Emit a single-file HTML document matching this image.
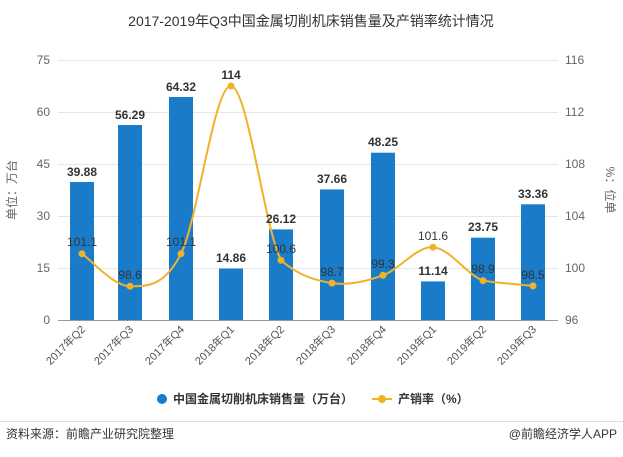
<!DOCTYPE html>
<html><head><meta charset="utf-8"><style>
body{margin:0;background:#fff;}
svg text{font-family:"Liberation Sans","Noto Sans CJK SC",sans-serif;}
</style></head><body>
<svg width="623" height="452" viewBox="0 0 623 452" xmlns="http://www.w3.org/2000/svg">
<text x="311" y="26" font-size="14" text-anchor="middle" fill="#333">2017-2019年Q3中国金属切削机床销售量及产销率统计情况</text>
<g stroke="#e6e6e6" stroke-width="1">
<line x1="58" y1="60.5" x2="558" y2="60.5"/><line x1="58" y1="112.5" x2="558" y2="112.5"/>
<line x1="58" y1="164.5" x2="558" y2="164.5"/><line x1="58" y1="216.5" x2="558" y2="216.5"/>
<line x1="58" y1="268.5" x2="558" y2="268.5"/>
</g>
<line x1="58" y1="320.5" x2="558" y2="320.5" stroke="#999"/>
<g font-size="12" fill="#666" text-anchor="end">
<text x="50" y="64">75</text><text x="50" y="116">60</text><text x="50" y="168">45</text>
<text x="50" y="220">30</text><text x="50" y="272">15</text><text x="50" y="324">0</text>
</g>
<g font-size="12" fill="#666" text-anchor="start">
<text x="565" y="64">116</text><text x="565" y="116">112</text><text x="565" y="168">108</text>
<text x="565" y="220">104</text><text x="565" y="272">100</text><text x="565" y="324">96</text>
</g>
<text transform="translate(16,190) rotate(-90)" font-size="12" fill="#666" text-anchor="middle">单位：万台</text>
<text transform="translate(606,190) rotate(90)" font-size="12" fill="#666" text-anchor="middle">%：位单</text>
<g fill="#1a7cc9">
<rect x="70" y="182" width="24" height="138"/>
<rect x="118" y="125" width="24" height="195"/>
<rect x="169" y="97" width="24" height="223"/>
<rect x="219" y="268.5" width="24" height="51.5"/>
<rect x="269" y="229.4" width="24" height="90.6"/>
<rect x="320" y="189.4" width="24" height="130.6"/>
<rect x="371" y="152.7" width="24" height="167.3"/>
<rect x="421" y="281.4" width="24" height="38.6"/>
<rect x="471" y="237.7" width="24" height="82.3"/>
<rect x="521" y="204.3" width="24" height="115.7"/>
</g>
<path d="M82,253.7 C90,259.1 113.5,286.2 130,286.2 C146.5,286.2 164.2,287.1 181,253.7 C197.8,220.3 214.3,84.9 231,86 C247.7,87.1 264.2,227.3 281,260.2 C297.8,275 315,280.6 332,283.1 C349,285.6 366.2,281.3 383,275.3 C399.8,269.3 416.3,246.3 433,247.2 C449.7,248.1 466.3,274.3 483,280.7 C499.7,283 524.7,285 533,285.9" fill="none" stroke="#f0b229" stroke-width="2"/>
<g fill="#f0b229">
<circle cx="82" cy="253.7" r="3.5"/><circle cx="130" cy="286.2" r="3.5"/><circle cx="181" cy="253.7" r="3.5"/>
<circle cx="231" cy="86" r="3.5"/><circle cx="281" cy="260.2" r="3.5"/><circle cx="332" cy="283.1" r="3.5"/>
<circle cx="383" cy="275.3" r="3.5"/><circle cx="433" cy="247.2" r="3.5"/><circle cx="483" cy="280.7" r="3.5"/>
<circle cx="533" cy="285.9" r="3.5"/>
</g>
<g font-size="12" font-weight="bold" fill="#333" text-anchor="middle">
<text x="82" y="176">39.88</text><text x="130" y="119">56.29</text><text x="181" y="91">64.32</text>
<text x="231" y="79">114</text><text x="231" y="262">14.86</text><text x="281" y="223">26.12</text>
<text x="332" y="183">37.66</text><text x="383" y="146">48.25</text><text x="433" y="275">11.14</text>
<text x="483" y="231">23.75</text><text x="533" y="198">33.36</text>
</g>
<g font-size="12" fill="#333" text-anchor="middle">
<text x="82" y="246">101.1</text><text x="130" y="279">98.6</text><text x="181" y="246">101.1</text>
<text x="281" y="253">100.6</text><text x="332" y="276">98.7</text><text x="383" y="268">99.3</text>
<text x="433" y="240">101.6</text><text x="483" y="273">98.9</text><text x="533" y="279">98.5</text>
</g>
<g font-size="11" fill="#555" text-anchor="end">
<text transform="translate(86,330) rotate(-45)">2017年Q2</text>
<text transform="translate(134,330) rotate(-45)">2017年Q3</text>
<text transform="translate(185,330) rotate(-45)">2017年Q4</text>
<text transform="translate(235,330) rotate(-45)">2018年Q1</text>
<text transform="translate(285,330) rotate(-45)">2018年Q2</text>
<text transform="translate(336,330) rotate(-45)">2018年Q3</text>
<text transform="translate(387,330) rotate(-45)">2018年Q4</text>
<text transform="translate(437,330) rotate(-45)">2019年Q1</text>
<text transform="translate(487,330) rotate(-45)">2019年Q2</text>
<text transform="translate(537,330) rotate(-45)">2019年Q3</text>
</g>
<circle cx="162" cy="399" r="5" fill="#1a7cc9"/>
<text x="173" y="403" font-size="12" font-weight="bold" fill="#333">中国金属切削机床销售量（万台）</text>
<line x1="372" y1="399" x2="392" y2="399" stroke="#f0b229" stroke-width="2"/>
<circle cx="382" cy="399" r="4" fill="#f0b229"/>
<text x="398" y="403" font-size="12" font-weight="bold" fill="#333">产销率（%）</text>
<line x1="0" y1="421.5" x2="623" y2="421.5" stroke="#ddd"/>
<text x="6" y="438" font-size="12" fill="#333">资料来源：前瞻产业研究院整理</text>
<text x="617" y="438" font-size="12" fill="#333" text-anchor="end">@前瞻经济学人APP</text>
</svg>
</body></html>
